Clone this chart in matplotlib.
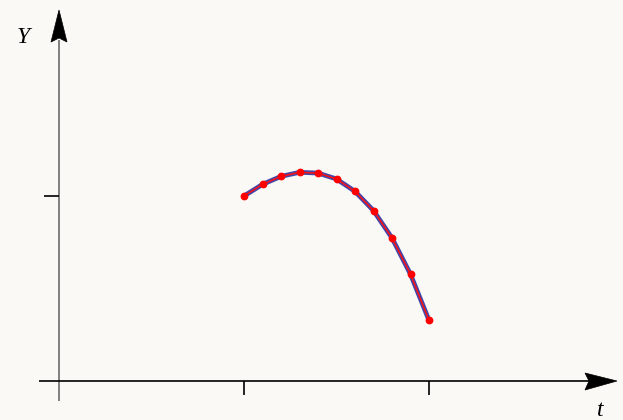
import matplotlib
matplotlib.use("Agg")
import matplotlib.pyplot as plt
from matplotlib.patches import Polygon
import numpy as np

# data (t from 1 to 2, step 0.1)
t_vals = [1.0, 1.1, 1.2, 1.3, 1.4, 1.5, 1.6, 1.7, 1.8, 1.9, 2.0]
y_vals = [1.000, 1.063, 1.106, 1.128, 1.124, 1.092, 1.025, 0.921, 0.773, 0.577, 0.328]
x_ticks = [1, 2]
y_ticks = [1]

bg = "#faf9f6"
W, H = 623, 420
# pixel -> data mapping: origin at pixel (59, 381), 185 px per unit
ox, oy, s = 59, 381, 185.0

fig = plt.figure(figsize=(W / 100, H / 100), dpi=100, facecolor=bg)
ax = fig.add_axes([0, 0, 1, 1])
ax.set_facecolor(bg)
ax.set_xlim(-ox / s, (W - ox) / s)
ax.set_ylim(-(H - oy) / s, oy / s)
ax.axis("off")

def px(x, y):
    return ((x - ox) / s, (oy - y) / s)

# axes lines
ax.plot(*zip(px(59, 401), px(59, 40)), color="#808080", lw=1.4, solid_capstyle="butt")
ax.plot(*zip(px(39, 381), px(590, 381)), color="black", lw=1.2, solid_capstyle="butt")

# arrow heads
ax.add_patch(Polygon([px(59, 10), px(67, 42), px(59, 38), px(51, 42)], closed=True,
                     facecolor="black", edgecolor="black", lw=0.5))
ax.add_patch(Polygon([px(617, 381), px(585, 390), px(589, 381), px(585, 373)], closed=True,
                     facecolor="black", edgecolor="black", lw=0.5))

# ticks
for xt in x_ticks:
    ax.plot([xt, xt], [0, -14 / s], color="black", lw=1.2, solid_capstyle="butt")
for yt in y_ticks:
    ax.plot([-15 / s, 0], [yt, yt], color="black", lw=1.2, solid_capstyle="butt")

# labels
ax.text(*px(23, 38), "Y", fontsize=17, family="Liberation Serif", style="italic",
        ha="center", va="center")
ax.text(*px(600, 411), "t", fontsize=17, family="Liberation Serif", style="italic",
        ha="center", va="center")

# curve
ax.plot(t_vals, y_vals, color="#4545a8", lw=3.4, solid_capstyle="round",
        solid_joinstyle="round", zorder=3)
ax.plot(t_vals, y_vals, color="#ff1010", lw=1.1, solid_joinstyle="round", zorder=4)
ax.plot(t_vals, y_vals, "o", color="#ff0000", ms=4.6, zorder=5)

fig.savefig("out.png", dpi=100, facecolor=bg)
